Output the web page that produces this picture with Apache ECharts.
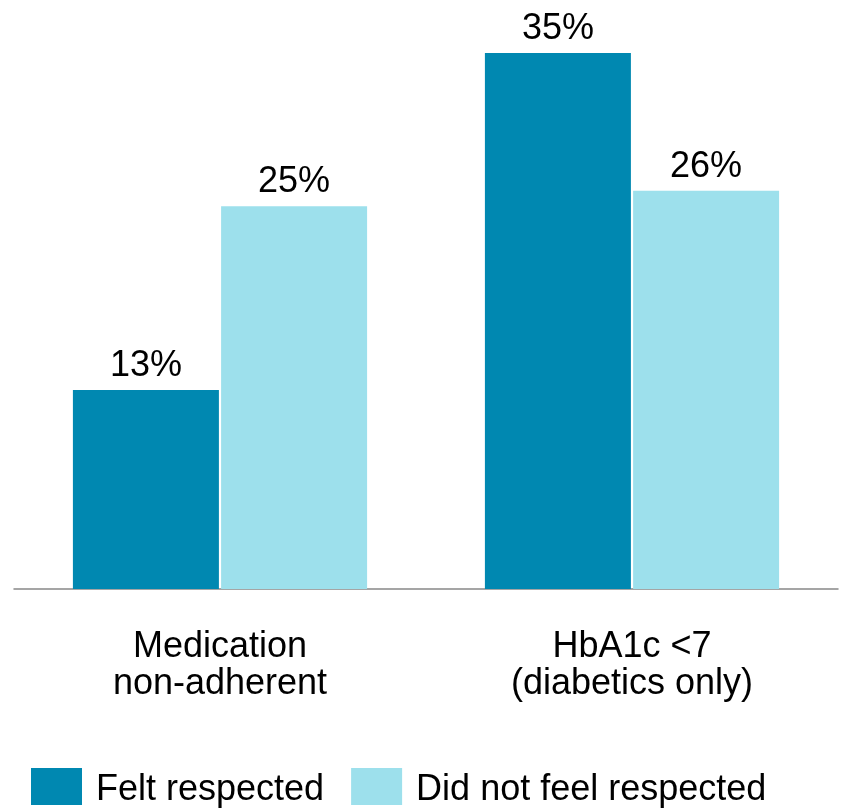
<!DOCTYPE html>
<html>
<head>
<meta charset="utf-8">
<script src="https://cdn.jsdelivr.net/npm/echarts@6/dist/echarts.min.js"></script>
<style>
html,body{margin:0;padding:0;background:#fff;}
#main{width:842px;height:808px;}
</style>
</head>
<body>
<div id="main"></div>
<script>
// categories and series values (percent)
var categories = ['Medication\nnon-adherent', 'HbA1c <7\n(diabetics only)'];
var seriesNames = ['Felt respected', 'Did not feel respected'];
var feltRespected = [13, 35];
var notRespected = [25, 26];

var FONT = '"Liberation Sans", Arial, sans-serif';
var colors = ['#0088B1', '#9DE0EC'];

var chart = echarts.init(document.getElementById('main'));

function labelCfg() {
    return {
        show: true,
        position: 'top',
        distance: 6,
        formatter: '{c}%',
        color: '#000',
        fontSize: 36,
        fontFamily: FONT
    };
}

var option = {
    animation: false,
    color: colors,
    grid: { left: 14, right: 4, top: 53, bottom: 219 },
    legend: {
        data: seriesNames,
        left: 31,
        top: 768,
        padding: 0,
        itemWidth: 51,
        itemHeight: 37,
        itemGap: 27,
        icon: 'rect',
        formatter: '{t|{name}}',
        textStyle: {
            color: '#000', fontSize: 36, fontFamily: FONT,
            rich: { t: { color: '#000', fontSize: 36, fontFamily: FONT, padding: [8, 0, 0, 9] } }
        }
    },
    xAxis: {
        type: 'category',
        data: categories,
        axisLine: { lineStyle: { color: '#888', width: 1.5 } },
        axisTick: { show: false },
        axisLabel: {
            color: '#000',
            fontSize: 36,
            fontFamily: FONT,
            lineHeight: 37,
            margin: 40
        }
    },
    yAxis: {
        type: 'value',
        min: 0,
        max: 35,
        show: false,
        splitLine: { show: false }
    },
    series: [
        {
            name: seriesNames[0],
            type: 'bar',
            data: feltRespected,
            barWidth: 146,
            barGap: '1.5%',
            label: labelCfg()
        },
        {
            name: seriesNames[1],
            type: 'bar',
            data: notRespected,
            barWidth: 146,
            barGap: '1.5%',
            label: labelCfg()
        }
    ]
};

chart.setOption(option);
</script>
</body>
</html>
